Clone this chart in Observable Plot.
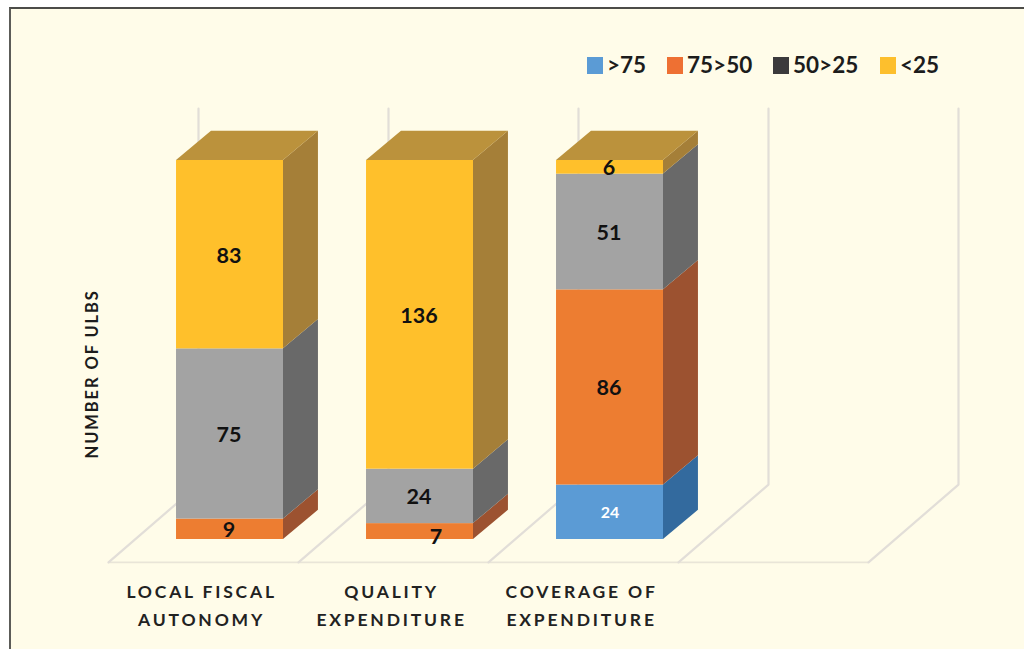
<!DOCTYPE html>
<html>
<head>
<meta charset="utf-8">
<script src="https://cdn.jsdelivr.net/npm/d3@7"></script>
<script src="https://cdn.jsdelivr.net/npm/@observablehq/plot@0.6"></script>
<style>
  html, body { margin: 0; padding: 0; background: #fff; overflow: hidden; }
  #stage { position: relative; width: 1024px; height: 649px; overflow: hidden; }
  #panel { position: absolute; left: 9px; top: 7px; width: 1030px; height: 660px; box-sizing: border-box;
           background: #fffce9; border-left: 2px solid #5c5c58; border-top: 2px solid #4c4c48; }
  #chart { position: absolute; left: 0; top: 0; }
  #chart svg { background: transparent; display: block; }
  .cat text { letter-spacing: 2.8px; }
  .ytitle text { letter-spacing: 1.9px; }
  #legend { position: absolute; top: 51px; left: 0; height: 28px; width: 1024px;
            font: bold 22.5px Lato, sans-serif; color: #1c1c1c; }
  #legend span { position: absolute; white-space: nowrap; line-height: 28px; }
  #legend i { display: inline-block; width: 16px; height: 17px; margin-right: 4px; vertical-align: -1px; }
</style>
</head>
<body>
<div id="stage">
  <div id="panel"></div>
  <div id="chart"></div>
  <div id="legend"></div>
</div>
<script>
// --- data ---
const categories = ["LOCAL FISCAL\nAUTONOMY", "QUALITY\nEXPENDITURE", "COVERAGE OF\nEXPENDITURE"];
const series = [">75", "75>50", "50>25", "<25"];
const over75   = [0, 0, 24];
const from50   = [9, 7, 86];
const from25   = [75, 24, 51];
const under25  = [83, 136, 6];
const seriesValues = [over75, from50, from25, under25];

// --- styling ---
const frontColors = ["#5b9bd5", "#ed7d31", "#a3a3a3", "#ffc02b"];
const sideColors  = ["#336a9e", "#9c5230", "#696969", "#a57f38"];
const topColor    = "#bb923c";
const legendColors = ["#5b9bd5", "#ee7033", "#3b3a3c", "#fdbf2d"];
const legendLeft = [587, 667, 773, 880];

// 3-D geometry in scale units
const barOffset = 0.358, barWidth = 0.563;
const depthX = 0.184, depthY = 12.9;
const wallX = 0.4737, wallBase = 24.2, wallTop = 189.9, floorFront = -10.1;

// --- derived stack ---
const segments = [];
categories.forEach((c, i) => {
  let base = 0;
  series.forEach((s, k) => {
    const v = seriesValues[k][i];
    if (v > 0) segments.push({i, s, k, v, y0: base, y1: base + v});
    base += v;
  });
});
const tops = categories.map((c, i) => ({i, total: d3.sum(seriesValues, a => a[i])}));

// side faces
const sidePts = segments.flatMap(d => [
  {id: d.i + "-" + d.k, k: d.k, x: d.i + barOffset + barWidth, y1: d.y0, y2: d.y1},
  {id: d.i + "-" + d.k, k: d.k, x: d.i + barOffset + barWidth + depthX, y1: d.y0 + depthY, y2: d.y1 + depthY}
]);
// top faces
const topPts = tops.flatMap(d => [
  {id: d.i, x1: d.i + barOffset, x2: d.i + barOffset + barWidth, y: d.total},
  {id: d.i, x1: d.i + barOffset + depthX, x2: d.i + barOffset + barWidth + depthX, y: d.total + depthY}
]);
// walls and floor
const wallLines = d3.range(5).flatMap(i => [
  {id: i, x: i, y: floorFront},
  {id: i, x: i + wallX, y: wallBase},
  {id: i, x: i + wallX, y: wallTop}
]);

const plot = Plot.plot({
  width: 1024, height: 649, margin: 0,
  x: {type: "linear", domain: [0, 4], range: [108, 868], axis: null},
  y: {type: "linear", domain: [0, 167], range: [539, 160], axis: null},
  color: {domain: series, range: frontColors},
  marks: [
    Plot.ruleY([floorFront], {x1: 0, x2: 4, stroke: "#e9e5d8", strokeWidth: 1.6}),
    Plot.line(wallLines, {x: "x", y: "y", z: "id", stroke: "#e2ded8", strokeWidth: 2.2, curve: "linear"}),
    ...series.map((s, k) => Plot.areaY(sidePts.filter(d => d.k === k), {
      x: "x", y1: "y1", y2: "y2", z: "id", fill: sideColors[k], curve: "linear"
    })),
    Plot.areaX(topPts, {x1: "x1", x2: "x2", y: "y", z: "id", fill: topColor, curve: "linear"}),
    Plot.rect(segments, {
      x1: d => d.i + barOffset, x2: d => d.i + barOffset + barWidth,
      y1: "y0", y2: "y1", fill: "s"
    }),
    // value labels
    Plot.text(segments.filter(d => !(d.k === 0) && d.v !== 7), {
      x: d => d.i + barOffset + barWidth / 2, y: d => (d.y0 + d.y1) / 2, text: "v", dx: -1, dy: 1,
      fontFamily: "Lato, sans-serif", fontWeight: 700, fontSize: 21.5, fill: "#111"
    }),
    Plot.text(segments.filter(d => d.v === 7), {
      x: d => d.i + barOffset + barWidth / 2, y: d => (d.y0 + d.y1) / 2, text: "v", dx: 16, dy: 6,
      fontFamily: "Lato, sans-serif", fontWeight: 700, fontSize: 21.5, fill: "#111"
    }),
    Plot.text(segments.filter(d => d.k === 0), {
      x: d => d.i + barOffset + barWidth / 2, y: d => (d.y0 + d.y1) / 2, text: "v", dy: 1,
      fontFamily: "Lato, sans-serif", fontWeight: 700, fontSize: 16, fill: "#fff"
    }),
    // category labels
    Plot.text(categories, {
      x: (d, i) => i + 0.49, y: floorFront, dy: 41, text: d => d, lineHeight: 1.6,
      fontFamily: "Lato, sans-serif", fontWeight: 700, fontSize: 17.5, fill: "#222", className: "cat"
    }),
    // y-axis title
    Plot.text(["NUMBER OF ULBS"], {
      x: -0.084, y: 73, text: d => d, rotate: -90,
      fontFamily: "Lato, sans-serif", fontWeight: 700, fontSize: 16.5, fill: "#1c1c1c", className: "ytitle"
    })
  ]
});
document.getElementById("chart").appendChild(plot);

// legend
const legend = d3.select("#legend");
series.forEach((s, k) => {
  const item = legend.append("span").style("left", legendLeft[k] + "px");
  item.append("i").style("background", legendColors[k]);
  item.append("b").style("font-weight", "700").text(s);
});
</script>
</body>
</html>
